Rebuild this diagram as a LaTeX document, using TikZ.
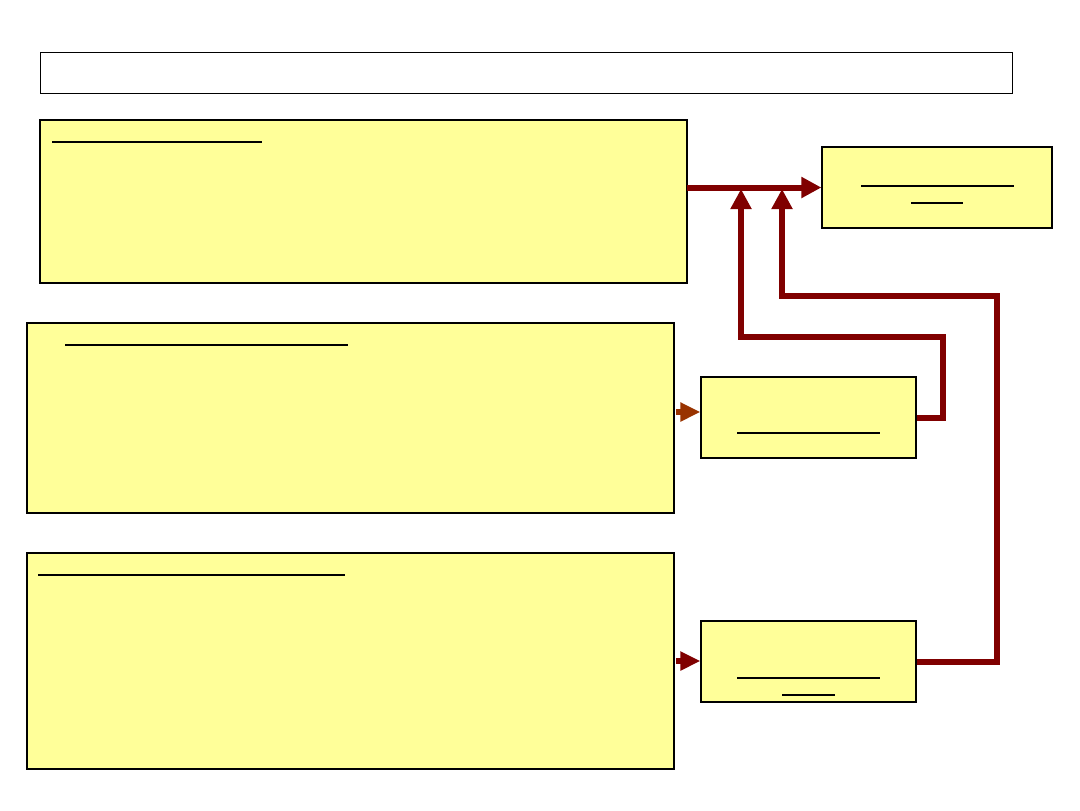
\documentclass[tikz,border=0pt]{standalone}
\usetikzlibrary{arrows.meta}
\definecolor{boxyellow}{RGB}{255,255,153}
\definecolor{darkred}{RGB}{128,0,0}
\definecolor{rust}{RGB}{153,51,0}
\tikzset{
  box/.style={draw=black, fill=boxyellow, line width=0.6pt, inner sep=0pt},
  bigbox/.style={box, line width=0.9pt},
  titlebox/.style={draw=black, fill=white, line width=0.5pt, inner sep=0pt},
  uline/.style={draw=black, line width=1pt},
  conn/.style={draw=darkred, line width=3pt, line join=miter, line cap=butt,
    -{Triangle[length=10pt,width=10pt]}},
  plain/.style={draw=darkred, line width=3pt, line join=miter, line cap=butt},
}
\begin{document}
\begin{tikzpicture}[x=0.5pt,y=-0.5pt]
\useasboundingbox (0,0) rectangle (1080,810);
% boxes
\node[titlebox, minimum width=486pt, minimum height=20.5pt] (title) at (526,72.5) {};
\node[bigbox, minimum width=323.5pt, minimum height=81.5pt] (A) at (363.5,201.5) {};
\node[bigbox, minimum width=323.5pt, minimum height=95pt] (B) at (350.5,418) {};
\node[bigbox, minimum width=323.5pt, minimum height=108pt] (C) at (350.5,661) {};
\node[box, minimum width=115pt, minimum height=40.5pt] (D) at (937,187.5) {};
\node[box, minimum width=107.5pt, minimum height=40.5pt] (E) at (808.5,417.5) {};
\node[box, minimum width=107.5pt, minimum height=40.5pt] (F) at (808.5,661.5) {};
% underlines
\draw[uline] (52,142) -- (262,142);
\draw[uline] (65,345) -- (348,345);
\draw[uline, line width=0.7pt] (38,575) -- (345,575);
\draw[uline] (861,186) -- (1014,186);
\draw[uline] (911,203) -- (963,203);
\draw[uline] (737,433) -- (880,433);
\draw[uline] (737,678) -- (880,678);
\draw[uline] (782,695) -- (835,695);
% connectors
\coordinate (ae) at (687,187.5);
\draw[conn] (ae) -- (D.west |- ae);
\coordinate (e1) at (943,337);
\coordinate (j1) at (741,189);
\draw[conn] (E.east) -| (e1) -| (j1);
\coordinate (f1) at (997,296);
\coordinate (j2) at (782,189);
\draw[conn] (F.east) -| (f1) -| (j2);
\coordinate (bs) at (676,412);
\draw[conn, draw=rust, -{Triangle[length=10pt,width=9pt]}] (bs) -- (E.west |- bs);
\coordinate (cs) at (676,661);
\draw[conn, -{Triangle[length=10pt,width=9pt]}] (cs) -- (F.west |- cs);
\end{tikzpicture}
\end{document}
